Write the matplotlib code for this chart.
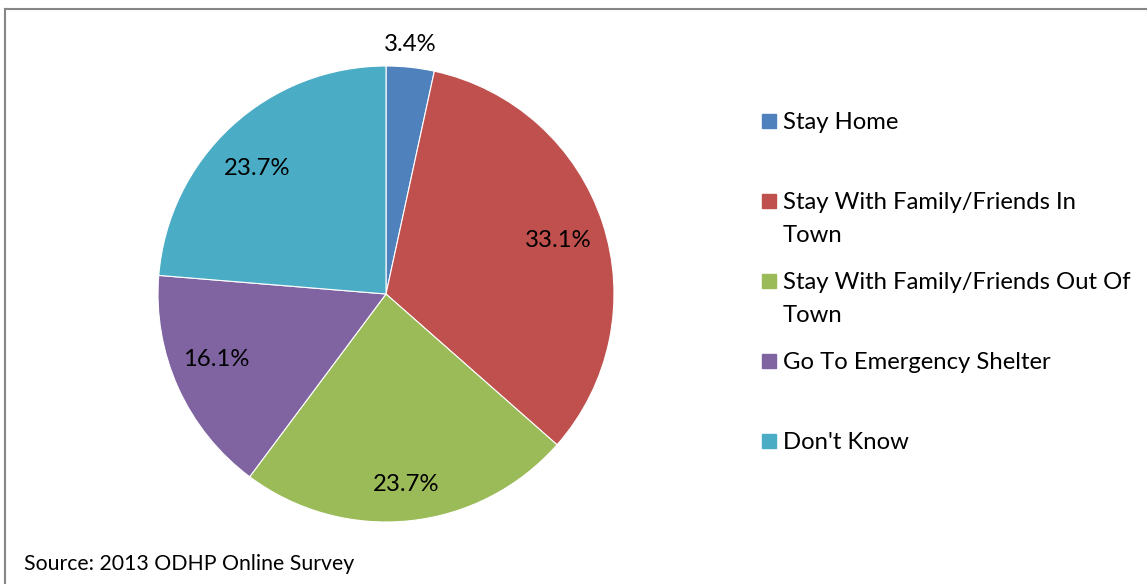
import numpy as np
import matplotlib
matplotlib.use("Agg")
import matplotlib.pyplot as plt
from matplotlib.patches import Rectangle
from matplotlib.lines import Line2D

plt.rcParams["font.family"] = ["Lato", "DejaVu Sans"]

# survey answers and their share of respondents (%)
categories = [["Stay Home"],
              ["Stay With Family/Friends In", "Town"],
              ["Stay With Family/Friends Out Of", "Town"],
              ["Go To Emergency Shelter"],
              ["Don't Know"]]
shares = [3.4, 33.1, 23.7, 16.1, 23.7]
colors = ["#4F81BD", "#C0504D", "#9BBB59", "#8064A2", "#4BACC6"]
source = "Source: 2013 ODHP Online Survey"

W, H = 1147, 584
fig = plt.figure(figsize=(W / 100, H / 100), dpi=100)

def px(x, y):
    return x / W, 1 - y / H

# outer frame: left and top edges
frame = dict(color="#868686", linewidth=1.5, transform=fig.transFigure)
fig.add_artist(Line2D([4.5 / W, 4.5 / W], [0, 1 - 8.5 / H], **frame))
fig.add_artist(Line2D([4.5 / W, 1], [1 - 8.5 / H, 1 - 8.5 / H], **frame))

cx, cy, r = 386, 294, 228
ax = fig.add_axes([(cx - r) / W, 1 - (cy + r) / H, 2 * r / W, 2 * r / H])
wedges, _ = ax.pie(shares, colors=colors, startangle=90, counterclock=False,
                   radius=1, wedgeprops=dict(edgecolor="white", linewidth=0.8))
ax.set_xlim(-1, 1)
ax.set_ylim(-1, 1)
ax.set_aspect("equal")
ax.axis("off")

# data labels: radial distance and small angular nudge from each wedge's mid-angle
label_dist = [1.1, 0.79, 0.84, 0.80, 0.79]
label_nudge = [0.6, -0.8, 0.0, -3.1, 3.2]
for w, v, d, da in zip(wedges, shares, label_dist, label_nudge):
    ang = np.deg2rad((w.theta1 + w.theta2) / 2 + da)
    ax.text(d * np.cos(ang), d * np.sin(ang), f"{v:.1f}%",
            ha="center", va="center", fontsize=17.2, color="black",
            clip_on=False)

# legend, one entry every 80 px, wrapped lines 33 px apart
for i, (lines, c) in enumerate(zip(categories, colors)):
    y = 121 + 80 * i
    x0, y0 = px(762, y + 7)
    fig.patches.append(Rectangle((x0, y0), 14 / W, 14 / H,
                                 transform=fig.transFigure, color=c))
    for k, line in enumerate(lines):
        fig.text(*px(783, y + 8 + 33 * k), line, ha="left", va="baseline",
                 fontsize=17.2)

fig.text(*px(24, 570), source, ha="left", va="baseline", fontsize=15.3)

fig.savefig("out.png", dpi=100)
